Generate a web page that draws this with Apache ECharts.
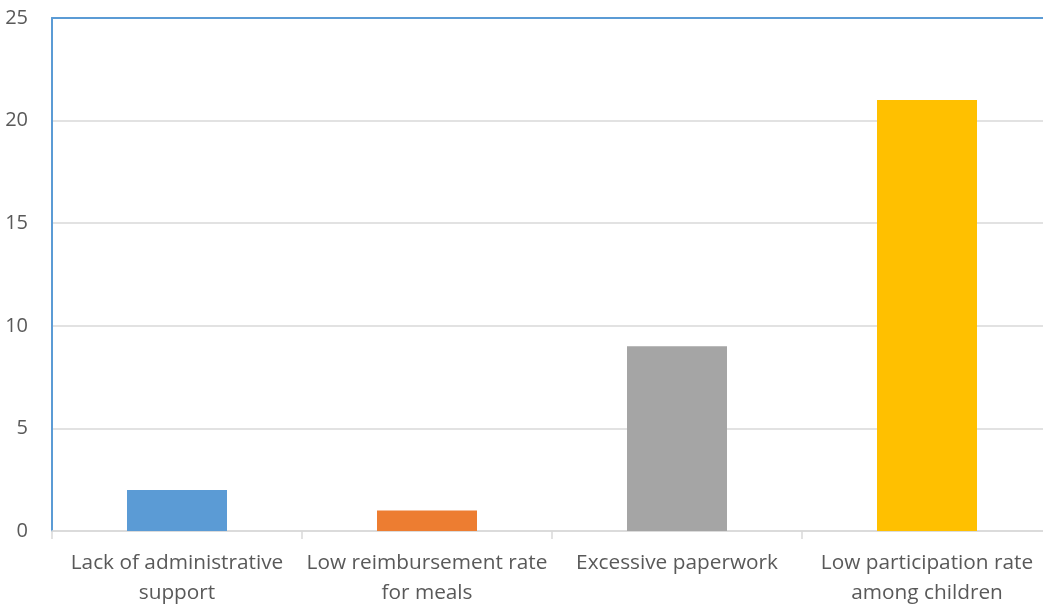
<!DOCTYPE html>
<html>
<head>
<meta charset="utf-8">
<script src="https://cdn.jsdelivr.net/npm/echarts@6/dist/echarts.min.js"></script>
<style>
  html, body { margin: 0; padding: 0; background: #fff; }
  #chart { width: 1043px; height: 606px; }
</style>
</head>
<body>
<div id="chart"></div>
<script>
// Reported barriers and their counts
const categories = [
  'Lack of administrative\nsupport',
  'Low reimbursement rate\nfor meals',
  'Excessive paperwork',
  'Low participation rate\namong children'
];
const counts = [2, 1, 9, 21];
const barColors = ['#5B9BD5', '#ED7D31', '#A5A5A5', '#FFC000'];
const yTicks = { min: 0, max: 25, interval: 5 };

const chart = echarts.init(document.getElementById('chart'));
const font = '"Open Sans", "Liberation Sans", sans-serif';

chart.setOption({
  animation: false,
  // plot runs past the right edge of the canvas
  grid: {
    left: 52, width: 1000, top: 18, height: 513,
    containLabel: false, outerBoundsMode: 'none'
  },
  xAxis: [
    {
      type: 'category',
      data: categories,
      axisLine: { lineStyle: { color: '#D9D9D9', width: 1.5 } },
      axisTick: { show: true, length: 8, lineStyle: { color: '#D9D9D9', width: 1.5 } },
      axisLabel: {
        color: '#595959', fontFamily: font, fontSize: 20.8,
        lineHeight: 30, margin: 17, interval: 0
      }
    },
    {
      // top frame line of the plot
      type: 'category',
      position: 'top',
      data: categories,
      axisLine: { lineStyle: { color: '#5B9BD5', width: 2 } },
      axisTick: { show: false },
      axisLabel: { show: false }
    }
  ],
  yAxis: {
    type: 'value',
    min: yTicks.min, max: yTicks.max, interval: yTicks.interval,
    axisLine: { show: true, lineStyle: { color: '#5B9BD5', width: 2 } },
    axisTick: { show: false },
    axisLabel: { color: '#595959', fontFamily: font, fontSize: 20, margin: 24 },
    splitLine: { lineStyle: { color: '#D9D9D9', width: 1.5 } }
  },
  series: [{
    type: 'bar',
    data: counts.map((v, i) => ({ value: v, itemStyle: { color: barColors[i] } })),
    barWidth: '40%'
  }]
});
</script>
</body>
</html>
